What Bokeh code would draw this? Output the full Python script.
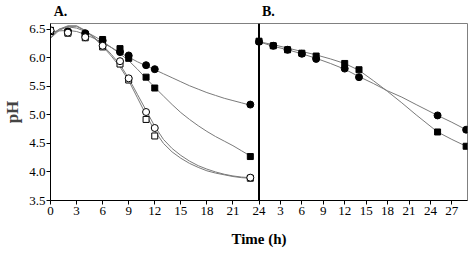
from bokeh.plotting import figure
from bokeh.models import FixedTicker, Span, Title, LinearAxis, PrintfTickFormatter
from bokeh.embed import file_html
from bokeh.resources import INLINE

# ---------------- Panel A data ----------------
time_a = [0, 2, 4, 6, 8, 9, 11, 12, 23]
fc_a = [6.47, 6.46, 6.43, 6.30, 6.10, 6.04, 5.87, 5.80, 5.18]   # filled circles
fs_a = [6.48, 6.45, 6.41, 6.32, 6.16, 5.99, 5.66, 5.47, 4.27]   # filled squares
oc_a = [6.48, 6.44, 6.36, 6.21, 5.94, 5.64, 5.05, 4.77, 3.90]   # open circles
os_a = [6.46, 6.43, 6.35, 6.19, 5.89, 5.61, 4.92, 4.63, 3.89]   # open squares

# fitted curves (panel A)
curve_t_a = [0, 1, 2, 3, 4, 5, 6, 7, 8, 9, 10, 11, 12, 13, 14, 15, 16, 17, 18, 19, 20, 21, 22, 23]
fc_a_fit = [6.45, 6.47, 6.48, 6.46, 6.41, 6.34, 6.26, 6.18, 6.09, 6.01, 5.93, 5.86, 5.79, 5.72,
            5.65, 5.58, 5.51, 5.45, 5.39, 5.34, 5.29, 5.25, 5.21, 5.17]
fs_a_fit = [6.40, 6.50, 6.54, 6.52, 6.46, 6.38, 6.29, 6.18, 6.07, 5.95, 5.80, 5.64, 5.48, 5.33,
            5.18, 5.04, 4.92, 4.81, 4.71, 4.62, 4.54, 4.46, 4.37, 4.28]
oc_a_fit = [6.36, 6.50, 6.56, 6.56, 6.48, 6.36, 6.22, 6.06, 5.88, 5.64, 5.36, 5.08, 4.80, 4.57,
            4.41, 4.29, 4.19, 4.11, 4.05, 4.00, 3.96, 3.93, 3.91, 3.90]
os_a_fit = [6.34, 6.48, 6.55, 6.55, 6.47, 6.35, 6.20, 6.03, 5.84, 5.60, 5.30, 5.00, 4.72, 4.50,
            4.35, 4.24, 4.15, 4.08, 4.02, 3.98, 3.95, 3.92, 3.90, 3.89]

# ---------------- Panel B data ----------------
time_b = [0, 2, 4, 6, 8, 12, 14, 25, 29]
fc_b = [6.28, 6.21, 6.14, 6.07, 5.98, 5.81, 5.66, 4.99, 4.74]
fs_b = [6.29, 6.21, 6.14, 6.08, 6.03, 5.90, 5.79, 4.70, 4.45]

curve_t_b = [0, 2, 4, 6, 8, 10, 12, 14, 16, 18, 20, 22, 25, 27, 29]
fc_b_fit = [6.28, 6.20, 6.14, 6.07, 5.99, 5.90, 5.80, 5.67, 5.55, 5.42, 5.31, 5.18, 4.99, 4.87, 4.74]
fs_b_fit = [6.28, 6.23, 6.17, 6.11, 6.05, 5.98, 5.90, 5.78, 5.60, 5.41, 5.21, 5.00, 4.70, 4.57, 4.45]

# ---------------- Tick labels ----------------
x_ticks_a = [0, 3, 6, 9, 12, 15, 18, 21, 24]
x_ticks_b = [3, 6, 9, 12, 15, 18, 21, 24, 27]
y_ticks = [3.5, 4.0, 4.5, 5.0, 5.5, 6.0, 6.5]
panel_letters = ["A.", "B."]

# panel B shares the axis; its time is placed after panel A with its own scale
B_OFFSET = 24.0
B_SCALE = 0.8222
LETTER_POS = [1.15, 25.08]


def to_b(ts):
    return [B_OFFSET + t * B_SCALE for t in ts]


SERIF = "Liberation Serif"
CURVE = "#7a7a7a"

p = figure(frame_width=417, frame_height=177, x_range=(0, 48.0), y_range=(3.5, 6.6),
           output_backend="svg", toolbar_location=None,
           min_border_left=50, min_border_right=2, min_border_top=23, min_border_bottom=53)
p.background_fill_color = "white"
p.border_fill_color = "white"
p.grid.visible = False
p.outline_line_color = "#808080"
p.outline_line_width = 1

# ticks
b_tick_pos = to_b(x_ticks_b)
p.xaxis.ticker = FixedTicker(ticks=[float(t) for t in x_ticks_a] + b_tick_pos)
overrides = {float(t): str(t) for t in x_ticks_a}
for pos, lab in zip(b_tick_pos, x_ticks_b):
    overrides[pos] = str(lab)
p.xaxis.major_label_overrides = overrides
p.yaxis.ticker = FixedTicker(ticks=y_ticks)
p.yaxis.formatter = PrintfTickFormatter(format="%.1f")

for ax in (p.xaxis[0], p.yaxis[0]):
    ax.axis_line_color = "black"
    ax.axis_line_width = 1
    ax.major_tick_line_color = "black"
    ax.major_tick_out = 4
    ax.major_tick_in = 0
    ax.minor_tick_out = 0
    ax.minor_tick_in = 0
    ax.major_label_text_font = SERIF
    ax.major_label_text_font_size = "13px"
    ax.major_label_text_color = "black"

p.xaxis.major_label_standoff = 2
p.yaxis.major_label_standoff = 1
p.yaxis.axis_label = "pH"
p.yaxis.axis_label_text_font = SERIF
p.yaxis.axis_label_text_font_style = "bold"
p.yaxis.axis_label_text_font_size = "17px"
p.yaxis.axis_label_standoff = 4

# panel letters as an axis above the frame
top_axis = LinearAxis(ticker=FixedTicker(ticks=LETTER_POS),
                      major_label_overrides={LETTER_POS[0]: panel_letters[0],
                                             LETTER_POS[1]: panel_letters[1]})
top_axis.axis_line_color = None
top_axis.major_tick_line_color = None
top_axis.minor_tick_line_color = None
top_axis.major_tick_out = 0
top_axis.major_tick_in = 0
top_axis.major_label_standoff = 5
top_axis.major_label_text_font = SERIF
top_axis.major_label_text_font_style = "bold"
top_axis.major_label_text_font_size = "14px"
top_axis.major_label_text_color = "black"
p.add_layout(top_axis, "above")

# x title
p.add_layout(Title(text="Time (h)", align="center", offset=6, text_font=SERIF,
                   text_font_style="bold", text_font_size="15px", standoff=23,
                   text_color="black"), "below")

# thick divider at the start of panel B
p.add_layout(Span(location=B_OFFSET, dimension="height", line_color="black", line_width=2))

# curves
p.line(curve_t_a, fc_a_fit, line_color=CURVE, line_width=1)
p.line(curve_t_a, fs_a_fit, line_color=CURVE, line_width=1)
p.line(curve_t_a, oc_a_fit, line_color=CURVE, line_width=1)
p.line(curve_t_a, os_a_fit, line_color=CURVE, line_width=1)
p.line(to_b(curve_t_b), fc_b_fit, line_color=CURVE, line_width=1)
p.line(to_b(curve_t_b), fs_b_fit, line_color=CURVE, line_width=1)

# markers
p.scatter(time_a, fs_a, marker="square", size=6, fill_color="black", line_color="black")
p.scatter(time_a, fc_a, marker="circle", size=7, fill_color="black", line_color="black")
p.scatter(time_a, os_a, marker="square", size=6, fill_color="white", line_color="black", line_width=1)
p.scatter(time_a, oc_a, marker="circle", size=7, fill_color="white", line_color="black", line_width=1)
p.scatter(to_b(time_b), fs_b, marker="square", size=6, fill_color="black", line_color="black")
p.scatter(to_b(time_b), fc_b, marker="circle", size=7, fill_color="black", line_color="black")

open("out.html", "w").write(file_html(p, INLINE))
